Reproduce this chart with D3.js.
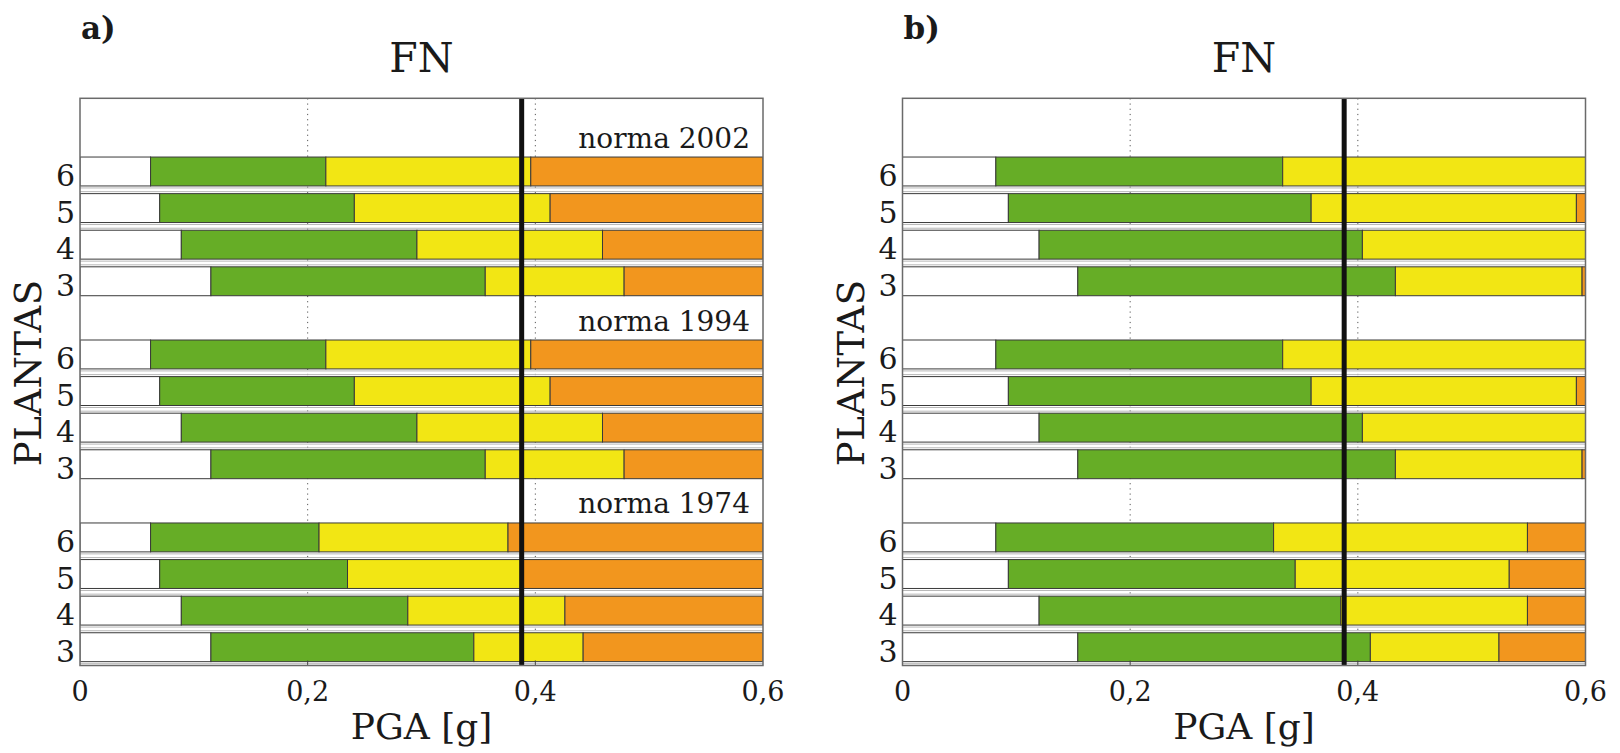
<!DOCTYPE html>
<html>
<head>
<meta charset="utf-8">
<script src="https://cdn.jsdelivr.net/npm/d3@7"></script>
<style>
  body { margin: 0; background: #fff; }
  svg { display: block; }
  text { font-family: "DejaVu Serif", serif; fill: #1a1a1a; }
</style>
</head>
<body>
<svg id="chart" width="1620" height="753"></svg>
<script>
// PGA [g] at which each bar changes colour: [white->green, green->yellow, yellow->orange]
// rows go plantas 6, 5, 4, 3 inside each norma group
const NORMAS = ["norma 2002", "norma 1994", "norma 1974"];
const PLANTAS = [6, 5, 4, 3];
const PGA_TICKS = [0, 0.2, 0.4, 0.6];
const PGA_MAX = 0.6;
const PGA_REF = 0.388;   // thick vertical line

const FN_A = [
  [[0.062, 0.216, 0.396], [0.070, 0.241, 0.413], [0.089, 0.296, 0.459], [0.115, 0.356, 0.478]],
  [[0.062, 0.216, 0.396], [0.070, 0.241, 0.413], [0.089, 0.296, 0.459], [0.115, 0.356, 0.478]],
  [[0.062, 0.210, 0.376], [0.070, 0.235, 0.389], [0.089, 0.288, 0.426], [0.115, 0.346, 0.442]],
];
const FN_B = [
  [[0.082, 0.334, 0.600], [0.093, 0.359, 0.592], [0.120, 0.404, 0.620], [0.154, 0.433, 0.597]],
  [[0.082, 0.334, 0.600], [0.093, 0.359, 0.592], [0.120, 0.404, 0.620], [0.154, 0.433, 0.597]],
  [[0.082, 0.326, 0.549], [0.093, 0.345, 0.533], [0.120, 0.385, 0.549], [0.154, 0.411, 0.524]],
];

const COLORS = ["#ffffff", "#66ad26", "#f2e614", "#f2961e"];

const panels = [
  { letter: "a)", left: 80, data: FN_A, labels: true },
  { letter: "b)", left: 902.5, data: FN_B, labels: false },
];

const svg = d3.select("#chart");
svg.append("rect").attr("width", 1620).attr("height", 753).attr("fill", "#fff");

const PLOT_W = 683;
const TOP = 98.3, BOTTOM = 665.5;
const BAR_H = 0.79;

// rows: group g, plant i -> centre at g*5 + 2 + i (one blank row on top of each group)
const y = d3.scaleLinear().domain([0, 15.5]).range([TOP, BOTTOM]);
const rowCenter = (g, i) => g * 5 + 2 + i;

panels.forEach((p, pi) => {
  const x = d3.scaleLinear().domain([0, PGA_MAX]).range([p.left, p.left + PLOT_W]);
  const g = svg.append("g");

  const clipId = "clip" + pi;
  g.append("clipPath").attr("id", clipId)
    .append("rect")
    .attr("x", x(0)).attr("y", TOP)
    .attr("width", x(PGA_MAX) - x(0)).attr("height", BOTTOM - TOP);

  g.append("rect")
    .attr("x", x(0)).attr("y", TOP)
    .attr("width", x(PGA_MAX) - x(0)).attr("height", BOTTOM - TOP)
    .attr("fill", "#fff");

  // dotted grid
  g.append("g")
    .selectAll("line")
    .data([0.2, 0.4])
    .join("line")
    .attr("x1", d => x(d)).attr("x2", d => x(d))
    .attr("y1", TOP).attr("y2", BOTTOM)
    .attr("stroke", "#555")
    .attr("stroke-width", 1)
    .attr("stroke-dasharray", "1.2,4");

  const rows = [];
  p.data.forEach((grp, gi) => {
    grp.forEach((b, i) => {
      rows.push({ gi, i, plant: PLANTAS[i], c: rowCenter(gi, i), b });
    });
  });

  const bars = g.append("g").attr("clip-path", `url(#${clipId})`);

  // thin light outlines in the gaps between bars
  rows.forEach(r => {
    const top = y(r.c - BAR_H / 2), bot = y(r.c + BAR_H / 2);
    const lines = [];
    if (r.i > 0) lines.push(top - 2);
    if (r.i < 3 || r.gi === 2) lines.push(bot + 2);
    bars.selectAll(null)
      .data(lines)
      .join("line")
      .attr("x1", x(0)).attr("x2", x(PGA_MAX))
      .attr("y1", d => d).attr("y2", d => d)
      .attr("stroke", "#b8b8b8")
      .attr("stroke-width", 1);
  });

  rows.forEach(r => {
    const edges = [0, ...r.b, PGA_MAX];
    const segs = [];
    for (let k = 0; k < 4; k++) {
      const x0 = edges[k], x1 = Math.min(edges[k + 1], PGA_MAX + 0.01);
      if (x1 > x0) segs.push({ x0, x1, color: COLORS[k] });
    }
    bars.selectAll(null)
      .data(segs)
      .join("rect")
      .attr("x", d => x(d.x0))
      .attr("width", d => x(d.x1) - x(d.x0))
      .attr("y", y(r.c - BAR_H / 2))
      .attr("height", y(r.c + BAR_H / 2) - y(r.c - BAR_H / 2))
      .attr("fill", d => d.color)
      .attr("stroke", "#3a3a3a")
      .attr("stroke-width", 1);
  });

  // bottom ticks
  g.append("g")
    .selectAll("line")
    .data([0.2, 0.4])
    .join("line")
    .attr("x1", d => x(d)).attr("x2", d => x(d))
    .attr("y1", BOTTOM).attr("y2", BOTTOM - 5)
    .attr("stroke", "#444");

  // reference PGA line
  g.append("line")
    .attr("x1", x(PGA_REF)).attr("x2", x(PGA_REF))
    .attr("y1", TOP).attr("y2", BOTTOM)
    .attr("stroke", "#111")
    .attr("stroke-width", 5);

  // frame
  g.append("rect")
    .attr("x", x(0)).attr("y", TOP)
    .attr("width", x(PGA_MAX) - x(0)).attr("height", BOTTOM - TOP)
    .attr("fill", "none")
    .attr("stroke", "#6a6a6a")
    .attr("stroke-width", 1.5);

  // norma labels
  if (p.labels) {
    g.append("g")
      .selectAll("text")
      .data(NORMAS)
      .join("text")
      .attr("x", x(PGA_MAX) - 13)
      .attr("y", (d, gi) => y(rowCenter(gi, 0) - BAR_H / 2) - 9.5)
      .attr("text-anchor", "end")
      .attr("font-size", 28)
      .text(d => d);
  }

  // plant labels
  g.append("g")
    .selectAll("text")
    .data(rows)
    .join("text")
    .attr("x", x(0) - 5)
    .attr("y", d => y(d.c) + 4)
    .attr("dominant-baseline", "central")
    .attr("text-anchor", "end")
    .attr("font-size", 30)
    .text(d => d.plant);

  // x tick labels
  g.append("g")
    .selectAll("text")
    .data(PGA_TICKS)
    .join("text")
    .attr("x", d => x(d))
    .attr("y", 701)
    .attr("text-anchor", "middle")
    .attr("font-size", 27)
    .text(d => d === 0 ? "0" : String(d).replace(".", ","));

  const cx = (x(0) + x(PGA_MAX)) / 2;

  g.append("text")
    .attr("x", cx).attr("y", 739)
    .attr("text-anchor", "middle")
    .attr("font-size", 36)
    .text("PGA [g]");

  g.append("text")
    .attr("x", cx).attr("y", 72)
    .attr("text-anchor", "middle")
    .attr("font-size", 41)
    .text("FN");

  g.append("text")
    .attr("x", x(0) + 1).attr("y", 39)
    .attr("font-size", 31)
    .attr("font-weight", "bold")
    .text(p.letter);

  g.append("text")
    .attr("transform", `translate(${x(0) - 39},${y(7.5)}) rotate(-90)`)
    .attr("text-anchor", "middle")
    .attr("font-size", 37)
    .attr("letter-spacing", 0.5)
    .text("PLANTAS");
});
</script>
</body>
</html>
